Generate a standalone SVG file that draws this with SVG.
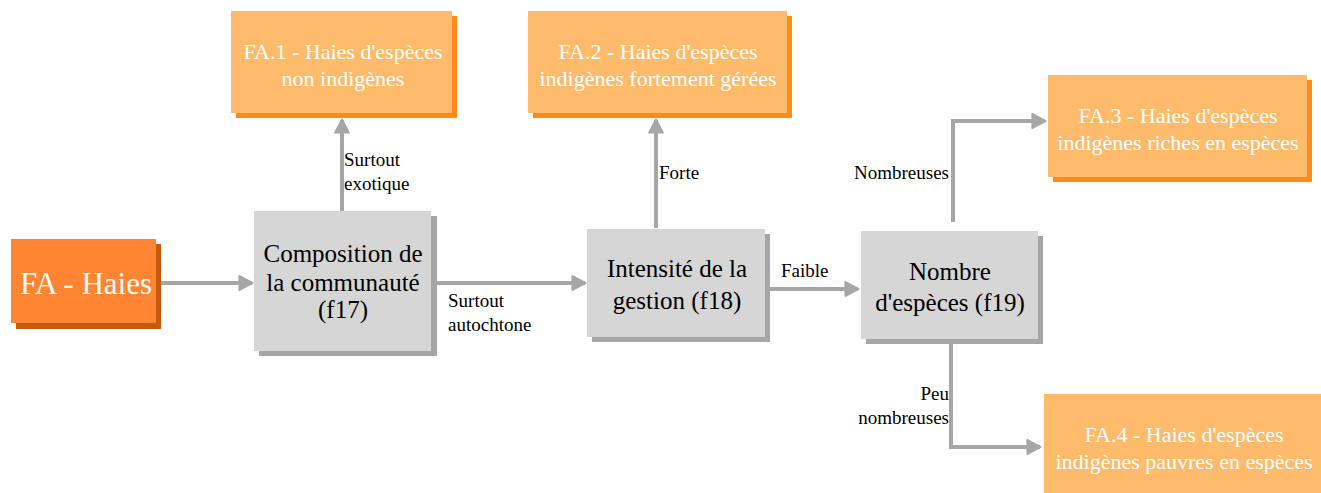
<svg xmlns="http://www.w3.org/2000/svg" width="1321" height="493" viewBox="0 0 1321 493">
  <style>
    text { font-family: "Liberation Serif", "Times New Roman", serif; text-anchor: middle; }
    .root rect.face { fill: #ff8533; }
    .root rect.shade { fill: #c55a11; }
    .root text { fill: #ffffff; font-size: 31px; }
    .leaf rect.face { fill: #fdbb6b; }
    .leaf rect.shade { fill: #ff8c1a; }
    .leaf text { fill: #ffffff; font-size: 22px; }
    .step rect.face { fill: #d6d6d6; }
    .step rect.shade { fill: #a6a6a6; }
    .step text { fill: #000000; font-size: 25px; }
    .edge { fill: none; stroke: #a6a6a6; stroke-width: 4; }
    .lbl { fill: #000000; font-size: 19px; }
    .start { text-anchor: start; }
    .end { text-anchor: end; }
  </style>
  <defs>
    <marker id="arrow" viewBox="0 0 10 10" refX="9" refY="5" markerWidth="4" markerHeight="4.5" orient="auto" markerUnits="strokeWidth">
      <path d="M1,0.5 L9.5,5 L1,9.5 Z" fill="#a6a6a6" stroke="#a6a6a6" stroke-width="1" stroke-linejoin="round"/>
    </marker>
  </defs>
  <rect width="1321" height="493" fill="#ffffff"/>

  <!-- connectors and their labels -->
  <g id="connectors">
    <path class="edge" d="M160,283 H252" marker-end="url(#arrow)"/>
    <path class="edge" d="M342,211 V120" marker-end="url(#arrow)"/>
    <path class="edge" d="M436,283 H585" marker-end="url(#arrow)"/>
    <path class="edge" d="M656,228 V120" marker-end="url(#arrow)"/>
    <path class="edge" d="M769,289 H858" marker-end="url(#arrow)"/>
    <path class="edge" d="M953,222 V121 H1045" marker-end="url(#arrow)"/>
    <path class="edge" d="M951,344 V447 H1040" marker-end="url(#arrow)"/>
    <text class="lbl start" x="344" y="166">Surtout</text>
    <text class="lbl start" x="344" y="190">exotique</text>
    <text class="lbl start" x="448" y="307">Surtout</text>
    <text class="lbl start" x="448" y="331">autochtone</text>
    <text class="lbl start" x="659" y="179">Forte</text>
    <text class="lbl start" x="781" y="277">Faible</text>
    <text class="lbl end" x="949" y="179">Nombreuses</text>
    <text class="lbl end" x="949" y="400">Peu</text>
    <text class="lbl end" x="949" y="424">nombreuses</text>
  </g>

  <g id="fa-haies" class="root">
    <rect class="shade" x="16" y="244" width="145" height="85"/>
    <rect class="face" x="11" y="239" width="145" height="84"/>
    <text x="86" y="294">FA - Haies</text>
  </g>

  <g id="fa1" class="leaf">
    <rect class="shade" x="236" y="16" width="221" height="102"/>
    <rect class="face" x="231" y="11" width="221" height="102"/>
    <text x="343" y="59">FA.1 - Haies d'espèces</text>
    <text x="343" y="86">non indigènes</text>
  </g>

  <g id="fa2" class="leaf">
    <rect class="shade" x="533" y="16" width="259" height="102"/>
    <rect class="face" x="528" y="11" width="259" height="102"/>
    <text x="658" y="59">FA.2 - Haies d'espèces</text>
    <text x="658" y="86">indigènes fortement gérées</text>
  </g>

  <g id="fa3" class="leaf">
    <rect class="shade" x="1053" y="80" width="259" height="102"/>
    <rect class="face" x="1048" y="75" width="259" height="102"/>
    <text x="1178" y="123">FA.3 - Haies d'espèces</text>
    <text x="1178" y="150">indigènes riches en espèces</text>
  </g>

  <g id="fa4" class="leaf">
    <rect class="face" x="1044" y="394" width="280" height="102"/>
    <text x="1184" y="442">FA.4 - Haies d'espèces</text>
    <text x="1184" y="469">indigènes pauvres en espèces</text>
  </g>

  <g id="f17" class="step">
    <rect class="shade" x="259" y="216" width="178" height="140"/>
    <rect class="face" x="254" y="211" width="177" height="140"/>
    <text x="343" y="262">Composition de</text>
    <text x="343" y="291">la communauté</text>
    <text x="343" y="318">(f17)</text>
  </g>

  <g id="f18" class="step">
    <rect class="shade" x="592" y="234" width="178" height="108"/>
    <rect class="face" x="587" y="229" width="178" height="108"/>
    <text x="677" y="277">Intensité de la</text>
    <text x="677" y="309">gestion (f18)</text>
  </g>

  <g id="f19" class="step">
    <rect class="shade" x="866" y="236" width="177" height="108"/>
    <rect class="face" x="861" y="231" width="177" height="108"/>
    <text x="950" y="280">Nombre</text>
    <text x="950" y="311">d'espèces (f19)</text>
  </g>
</svg>
